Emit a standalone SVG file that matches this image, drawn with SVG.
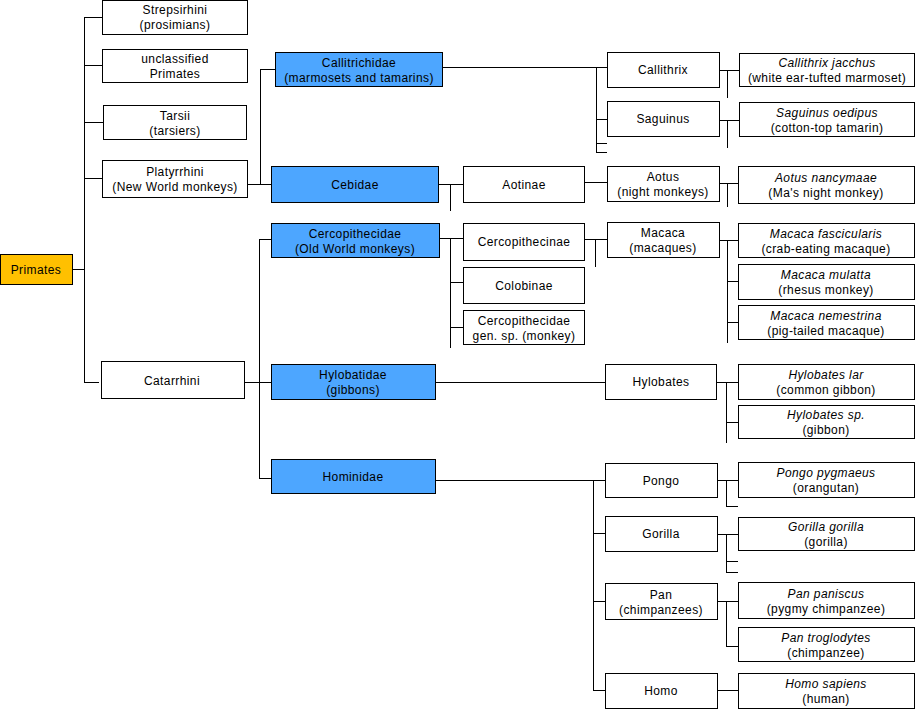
<svg xmlns="http://www.w3.org/2000/svg" width="917" height="710" viewBox="0 0 917 710">
<style>
rect{stroke:#000;stroke-width:1;fill:#fff;shape-rendering:crispEdges}
rect.root{fill:#FFC000}
rect.fam{fill:#4DA6FF}
text{font-family:"Liberation Sans",Arial,sans-serif;font-size:12px;letter-spacing:0.4px;fill:#000;text-anchor:middle}
text.sp tspan.i{font-style:italic}
#connectors path{stroke:#000;stroke-width:1;fill:none;shape-rendering:crispEdges}
</style>
<rect x="0" y="0" width="917" height="710" style="fill:#fff;stroke:none"/>
<g id="connectors">
<path d="M73 269.5H84.5M84.5 17V382.5H99M84.5 17.5H102M84.5 65.5H102M84.5 122.5H103M84.5 178.5H102"/>
<path d="M247 184.5H271M260.5 69V184.5M260.5 69.5H275"/>
<path d="M443 67.5H607M596.5 67V152.5H607M596.5 119.5H607M596.5 143.5H607"/>
<path d="M719 70.5H739M727.5 70V98"/>
<path d="M719 120.5H739M727.5 120V148"/>
<path d="M439 184.5H463M450.5 184V211"/>
<path d="M584 182.5H607"/>
<path d="M719 183.5H738M727.5 183V207"/>
<path d="M245 382.5H271M259.5 239V478.5H271M259.5 239.5H271"/>
<path d="M439 238.5H463M450.5 238V348M450.5 282.5H463M450.5 327.5H463"/>
<path d="M584 239.5H607M595.5 239V267"/>
<path d="M719 240.5H738M727.5 240V343M727.5 281.5H738M727.5 322.5H738"/>
<path d="M435 382.5H605"/>
<path d="M717 382.5H738M726.5 382V443M726.5 422.5H738"/>
<path d="M435 480.5H605M593.5 480V690.5H605M593.5 533.5H605M593.5 601.5H605"/>
<path d="M717 480.5H738M726.5 480V506.5H738"/>
<path d="M717 534.5H738M726.5 534V572.5H738M726.5 561.5H738"/>
<path d="M717 601.5H738M726.5 601V646.5H738"/>
<path d="M717 690.5H738"/>
</g>
<g id="primates"><rect class="root" x="0.5" y="254.5" width="72" height="30"/><text x="36" y="273.5">Primates</text></g>
<g id="strepsirhini"><rect x="102.5" y="0.5" width="145" height="34"/><text x="175" y="14"><tspan x="175">Strepsirhini</tspan><tspan x="175" dy="15">(prosimians)</tspan></text></g>
<g id="unclassified"><rect x="102.5" y="49.5" width="145" height="33"/><text x="175" y="62.5"><tspan x="175">unclassified</tspan><tspan x="175" dy="15">Primates</tspan></text></g>
<g id="tarsii"><rect x="103.5" y="105.5" width="143" height="34"/><text x="175" y="119.5"><tspan x="175">Tarsii</tspan><tspan x="175" dy="15">(tarsiers)</tspan></text></g>
<g id="platyrrhini"><rect x="102.5" y="160.5" width="145" height="37"/><text x="175" y="176"><tspan x="175">Platyrrhini</tspan><tspan x="175" dy="15">(New World monkeys)</tspan></text></g>
<g id="catarrhini"><rect x="101.5" y="361.5" width="143" height="37"/><text x="172" y="384.5">Catarrhini</text></g>
<g id="callitrichidae"><rect class="fam" x="275.5" y="52.5" width="167" height="34"/><text x="359" y="66.5"><tspan x="359">Callitrichidae</tspan><tspan x="359" dy="15">(marmosets and tamarins)</tspan></text></g>
<g id="cebidae"><rect class="fam" x="271.5" y="166.5" width="167" height="36"/><text x="355" y="188.5">Cebidae</text></g>
<g id="cercopithecidae"><rect class="fam" x="271.5" y="223.5" width="168" height="34"/><text x="355" y="237.5"><tspan x="355">Cercopithecidae</tspan><tspan x="355" dy="15">(Old World monkeys)</tspan></text></g>
<g id="hylobatidae"><rect class="fam" x="271.5" y="364.5" width="164" height="35"/><text x="353" y="379"><tspan x="353">Hylobatidae</tspan><tspan x="353" dy="15">(gibbons)</tspan></text></g>
<g id="hominidae"><rect class="fam" x="271.5" y="459.5" width="164" height="34"/><text x="353" y="481">Hominidae</text></g>
<g id="aotinae"><rect x="463.5" y="166.5" width="121" height="36"/><text x="524" y="188.5">Aotinae</text></g>
<g id="cercopithecinae"><rect x="463.5" y="223.5" width="121" height="37"/><text x="524" y="246">Cercopithecinae</text></g>
<g id="colobinae"><rect x="463.5" y="267.5" width="121" height="36"/><text x="524" y="289.5">Colobinae</text></g>
<g id="cercogensp"><rect x="463.5" y="310.5" width="121" height="34"/><text x="524" y="324.5"><tspan x="524">Cercopithecidae</tspan><tspan x="524" dy="15">gen. sp. (monkey)</tspan></text></g>
<g id="callithrix"><rect x="607.5" y="52.5" width="112" height="35"/><text x="663" y="74">Callithrix</text></g>
<g id="saguinus"><rect x="607.5" y="101.5" width="112" height="35"/><text x="663" y="123">Saguinus</text></g>
<g id="aotus"><rect x="607.5" y="166.5" width="112" height="35"/><text x="663" y="181"><tspan x="663">Aotus</tspan><tspan x="663" dy="15">(night monkeys)</tspan></text></g>
<g id="macaca"><rect x="607.5" y="222.5" width="112" height="35"/><text x="663" y="237"><tspan x="663">Macaca</tspan><tspan x="663" dy="15">(macaques)</tspan></text></g>
<g id="hylobates"><rect x="605.5" y="364.5" width="111" height="35"/><text x="661" y="386">Hylobates</text></g>
<g id="pongo"><rect x="605.5" y="463.5" width="112" height="34"/><text x="661" y="485">Pongo</text></g>
<g id="gorilla"><rect x="605.5" y="516.5" width="112" height="35"/><text x="661" y="538">Gorilla</text></g>
<g id="pan"><rect x="605.5" y="583.5" width="112" height="36"/><text x="661" y="598.5"><tspan x="661">Pan</tspan><tspan x="661" dy="15">(chimpanzees)</tspan></text></g>
<g id="homo"><rect x="605.5" y="673.5" width="112" height="35"/><text x="661" y="695">Homo</text></g>
<g id="c-jacchus"><rect x="739.5" y="53.5" width="175" height="33"/><text class="sp" x="827" y="67"><tspan class="i" x="827">Callithrix jacchus</tspan><tspan x="827" dy="15">(white ear-tufted marmoset)</tspan></text></g>
<g id="s-oedipus"><rect x="739.5" y="102.5" width="175" height="34"/><text class="sp" x="827" y="116.5"><tspan class="i" x="827">Saguinus oedipus</tspan><tspan x="827" dy="15">(cotton-top tamarin)</tspan></text></g>
<g id="a-nancymaae"><rect x="738.5" y="166.5" width="176" height="37"/><text class="sp" x="826" y="182"><tspan class="i" x="826">Aotus nancymaae</tspan><tspan x="826" dy="15">(Ma's night monkey)</tspan></text></g>
<g id="m-fascicularis"><rect x="738.5" y="223.5" width="176" height="34"/><text class="sp" x="826" y="237.5"><tspan class="i" x="826">Macaca fascicularis</tspan><tspan x="826" dy="15">(crab-eating macaque)</tspan></text></g>
<g id="m-mulatta"><rect x="738.5" y="264.5" width="176" height="35"/><text class="sp" x="826" y="279"><tspan class="i" x="826">Macaca mulatta</tspan><tspan x="826" dy="15">(rhesus monkey)</tspan></text></g>
<g id="m-nemestrina"><rect x="738.5" y="305.5" width="176" height="34"/><text class="sp" x="826" y="319.5"><tspan class="i" x="826">Macaca nemestrina</tspan><tspan x="826" dy="15">(pig-tailed macaque)</tspan></text></g>
<g id="h-lar"><rect x="738.5" y="364.5" width="176" height="35"/><text class="sp" x="826" y="379"><tspan class="i" x="826">Hylobates lar</tspan><tspan x="826" dy="15">(common gibbon)</tspan></text></g>
<g id="h-sp"><rect x="738.5" y="405.5" width="176" height="33"/><text class="sp" x="826" y="419"><tspan class="i" x="826">Hylobates sp.</tspan><tspan x="826" dy="15">(gibbon)</tspan></text></g>
<g id="p-pygmaeus"><rect x="738.5" y="462.5" width="176" height="35"/><text class="sp" x="826" y="477"><tspan class="i" x="826">Pongo pygmaeus</tspan><tspan x="826" dy="15">(orangutan)</tspan></text></g>
<g id="g-gorilla"><rect x="738.5" y="517.5" width="176" height="33"/><text class="sp" x="826" y="531"><tspan class="i" x="826">Gorilla gorilla</tspan><tspan x="826" dy="15">(gorilla)</tspan></text></g>
<g id="p-paniscus"><rect x="738.5" y="582.5" width="176" height="36"/><text class="sp" x="826" y="597.5"><tspan class="i" x="826">Pan paniscus</tspan><tspan x="826" dy="15">(pygmy chimpanzee)</tspan></text></g>
<g id="p-troglodytes"><rect x="738.5" y="627.5" width="176" height="34"/><text class="sp" x="826" y="641.5"><tspan class="i" x="826">Pan troglodytes</tspan><tspan x="826" dy="15">(chimpanzee)</tspan></text></g>
<g id="h-sapiens"><rect x="738.5" y="673.5" width="176" height="35"/><text class="sp" x="826" y="688"><tspan class="i" x="826">Homo sapiens</tspan><tspan x="826" dy="15">(human)</tspan></text></g>
</svg>
